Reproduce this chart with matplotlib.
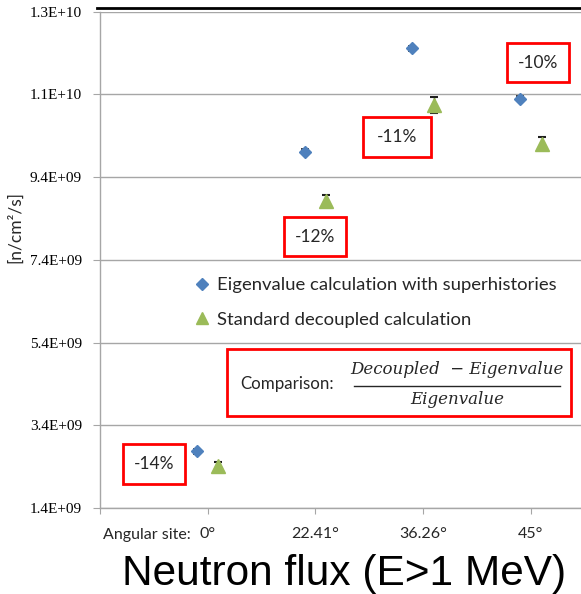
import matplotlib
matplotlib.use("Agg")
import matplotlib.pyplot as plt
from matplotlib.patches import Rectangle
from matplotlib.lines import Line2D

# ---- data ----
angles = ["0°", "22.41°", "36.26°", "45°"]
eigenvalue = [2.77e9, 10.01e9, 12.52e9, 11.30e9]
eigenvalue_err = [0.06e9, 0.06e9, 0.06e9, 0.06e9]
decoupled = [2.41e9, 8.83e9, 11.15e9, 10.21e9]
decoupled_err = [0.10e9, 0.15e9, 0.19e9, 0.16e9]
differences = ["-14%", "-12%", "-11%", "-10%"]
ytick_values = [1.4e9, 3.4e9, 5.4e9, 7.4e9, 9.4e9, 11.4e9, 13.4e9]
ytick_labels = ["1.4E+09", "3.4E+09", "5.4E+09", "7.4E+09", "9.4E+09", "1.1E+10", "1.3E+10"]
series_names = ["Eigenvalue calculation with superhistories", "Standard decoupled calculation"]

W, H = 581, 594
fig = plt.figure(figsize=(W / 100, H / 100), dpi=100)

def fx(x):
    return x / W

def fy(y):
    return 1 - y / H

ax = fig.add_axes([fx(100), fy(508), fx(581) - fx(100), fy(11.7) - fy(508)])

blue = "#4f81bd"
green = "#9bbb59"
grid_c = "#a6a6a6"
sans = "Lato"

pos = [i + 1 for i in range(len(angles))]
off = 0.1
ax.errorbar([p - off for p in pos], eigenvalue, yerr=eigenvalue_err, fmt="D", color=blue,
            markersize=6.3, ecolor="#1f1f1f", elinewidth=1, capsize=3, capthick=1.2, zorder=4)
ax.errorbar([p + off for p in pos], decoupled, yerr=decoupled_err, fmt="^", color=green,
            markersize=9.5, ecolor="#1f1f1f", elinewidth=1, capsize=3.2, capthick=1.5, zorder=4)

ax.set_xlim(0, (581 - 100) / 107.7)
ax.set_ylim(1.4e9, 13.4e9)
ax.set_yticks(ytick_values)
ax.set_yticklabels(ytick_labels, family="Liberation Serif", fontsize=11)
ax.set_xticks([0] + pos)
ax.set_xticklabels([""] + angles, family=sans, fontsize=11.5)
ax.tick_params(axis="y", length=5, color=grid_c, pad=8)
ax.tick_params(axis="x", length=4, color=grid_c, pad=10)
for t in ax.get_xticklabels():
    t.set_color("#262626")
ax.grid(axis="y", color=grid_c, lw=1)
ax.set_axisbelow(True)
for s in ["top", "right"]:
    ax.spines[s].set_visible(False)
for s in ["left", "bottom"]:
    ax.spines[s].set_color(grid_c)
    ax.spines[s].set_linewidth(1)

# legend
handles = [Line2D([], [], ls="none", marker="D", color=blue, markersize=6),
           Line2D([], [], ls="none", marker="^", color=green, markersize=9)]
leg = ax.legend(handles, series_names, loc="center left", bbox_to_anchor=(fx(194), fy(302.5)),
                bbox_transform=fig.transFigure, frameon=False, borderpad=0, borderaxespad=0,
                handlelength=0.9, handletextpad=0.35, labelspacing=1.0,
                prop={"family": sans, "size": 13.3})
for t in leg.get_texts():
    t.set_color("#262626")

# top black line
fig.add_artist(Line2D([fx(97), 1], [fy(8), fy(8)], color="black", lw=2))

# red difference boxes
boxes = [(123, 444, 185, 484), (284, 217, 346, 256), (363, 117, 431, 157), (507, 43, 569, 82)]
for (x0, y0, x1, y1), lab in zip(boxes, differences):
    fig.add_artist(Rectangle((fx(x0), fy(y1)), fx(x1) - fx(x0), fy(y0) - fy(y1),
                             transform=fig.transFigure, fill=False, ec="#ff0000", lw=2))
    fig.text(fx((x0 + x1) / 2), fy((y0 + y1) / 2), lab, ha="center", va="center",
             family=sans, fontsize=12.5, color="#262626")

# comparison box
fig.add_artist(Rectangle((fx(227), fy(416)), fx(571) - fx(227), fy(349) - fy(416),
                         transform=fig.transFigure, fill=False, ec="#ff0000", lw=2))
fig.text(fx(240), fy(384), "Comparison:", ha="left", va="center", family=sans, fontsize=12.2,
         color="#262626")
fig.text(fx(457), fy(370), "Decoupled  \u2212 Eigenvalue", ha="center", va="center",
         family="DejaVu Serif", style="italic", fontsize=12, color="#262626")
fig.add_artist(Line2D([fx(354), fx(560)], [fy(385.5), fy(385.5)], color="#262626", lw=1))
fig.text(fx(457), fy(399), "Eigenvalue", ha="center", va="center",
         family="DejaVu Serif", style="italic", fontsize=12, color="#262626")

# axis texts
fig.text(fx(103), fy(535), "Angular site:", ha="left", va="center", family=sans, fontsize=11.5,
         color="#262626")
fig.text(fx(15), fy(227), "[n/cm²/s]", rotation=90, ha="center", va="center", family=sans,
         fontsize=12.5, color="#262626")
fig.text(fx(344), fy(585), "Neutron flux (E>1 MeV)", ha="center", va="baseline",
         family="Liberation Sans", fontsize=30.5, color="black")

fig.savefig("out.png", dpi=100)
